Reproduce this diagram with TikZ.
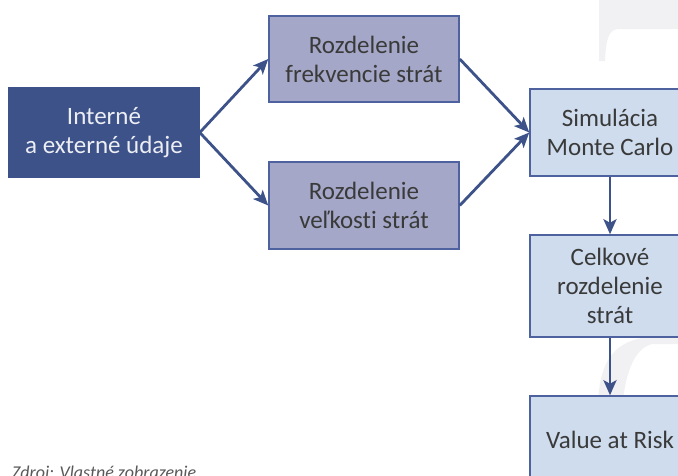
\documentclass[tikz,border=0pt]{standalone}
\usepackage{fontspec}
\setmainfont[Ligatures=NoCommon]{Carlito}
\usetikzlibrary{arrows.meta}
\definecolor{darkblue}{HTML}{3D5289}
\definecolor{purplebox}{HTML}{A4A7C7}
\definecolor{lightbox}{HTML}{CEDCEE}
\definecolor{bordercol}{HTML}{4F62A0}
\definecolor{txtgray}{HTML}{3A3A3A}
\definecolor{wmark}{HTML}{F1F1F4}
\begin{document}
\begin{tikzpicture}[x=1pt,y=-1pt,
  boxbase/.style={draw=bordercol, line width=1.5pt, align=center, inner sep=0pt,
    font=\fontsize{25}{29}\selectfont, text=txtgray},
  darkbox/.style={boxbase, fill=darkblue, draw=darkblue, text=white!90!darkblue,
    minimum width=190pt, minimum height=89pt},
  midbox/.style={boxbase, fill=purplebox, minimum width=190pt, minimum height=86pt},
  rightbox/.style={boxbase, fill=lightbox, minimum width=160pt},
  arr/.style={draw=darkblue, line width=2.8pt, -{Stealth[length=15pt,width=13pt,inset=3.5pt]}}
]
\clip (0,0) rectangle (678,475);
\useasboundingbox (0,0) rectangle (678,475);
\fill[white] (0,0) rectangle (678,475);
% watermark shapes
\fill[wmark] (599,0) -- (678,0) -- (678,29) -- (618,29)
  .. controls (608,30) and (606,40) .. (605,61) -- (599,61) -- cycle;
\fill[wmark] (598,475) -- (598,410) .. controls (598,360) and (615,340) .. (650,337)
  -- (678,337) -- (678,344) -- (652,344) .. controls (628,350) and (619,390) .. (619,475) -- cycle;
% nodes
\node[darkbox] (intern) at (104,132.5) {Interné\\a externé údaje};
\node[midbox] (frek) at (364,59) {Rozdelenie\\frekvencie strát};
\node[midbox, minimum height=87pt] (velk) at (364,205.5) {Rozdelenie\\veľkosti strát};
\node[rightbox, minimum height=87pt] (sim) at (610,132.5) {Simulácia\\Monte Carlo};
\node[rightbox, minimum height=102pt] (celk) at (610,286) {Celkové\\rozdelenie\\strát};
\node[rightbox, minimum height=88pt] (var) at (610,440) {Value at Risk};
\node[anchor=north west, inner sep=0pt, font=\fontsize{18}{20}\selectfont\itshape, text=black!65] (src) at (12,466) {Zdroj: Vlastné zobrazenie};
% connectors
\draw[arr] (intern.east) -- (frek.west);
\draw[arr] (intern.east) -- (velk.west);
\draw[arr] (frek.east) -- (sim.west);
\draw[arr] (velk.east) -- (sim.west);
\draw[arr] (sim.south) -- (celk.north);
\draw[arr] (celk.south) -- (var.north);
\end{tikzpicture}
\end{document}
